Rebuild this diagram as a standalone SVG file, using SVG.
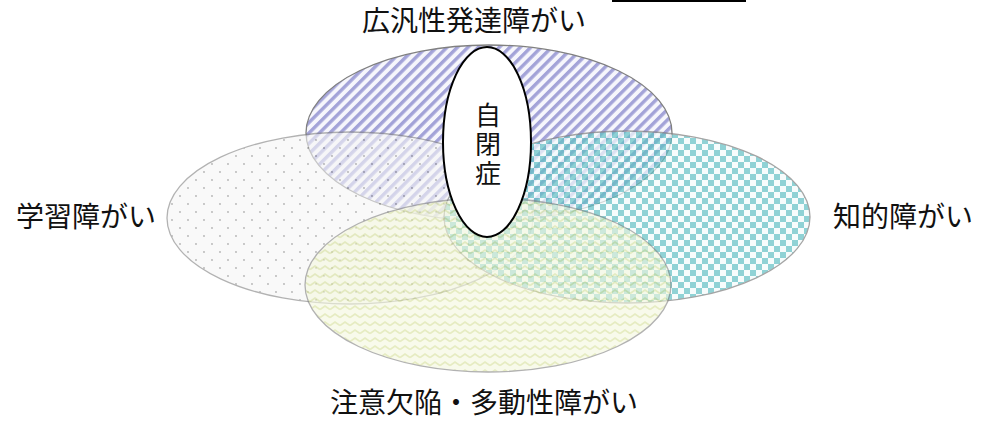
<svg xmlns="http://www.w3.org/2000/svg" width="993" height="422" viewBox="0 0 993 422">
<style>
.lbl{font-family:"Noto Sans CJK JP","Noto Sans",sans-serif;font-size:28px;fill:#111;text-anchor:middle}
.v{font-size:26px;text-anchor:start;writing-mode:vertical-rl;letter-spacing:3px}
.ring{stroke:#808080;stroke-width:1.3}
</style>
<defs>
<pattern id="stripes" patternUnits="userSpaceOnUse" width="7.4" height="7.4" patternTransform="rotate(45)">
<rect width="7.4" height="7.4" fill="#f6f6fc"/>
<rect width="3.4" height="7.4" fill="#a3a3d8"/>
</pattern>
<pattern id="dots" patternUnits="userSpaceOnUse" width="16" height="16">
<rect width="16" height="16" fill="#f6f6f6"/>
<circle cx="4" cy="4" r="0.9" fill="#808080"/>
<circle cx="12" cy="12" r="0.9" fill="#808080"/>
</pattern>
<pattern id="checker" patternUnits="userSpaceOnUse" width="12" height="12">
<rect width="12" height="12" fill="#f4fcfc"/>
<rect width="6" height="6" fill="#62c0c4"/>
<rect x="6" y="6" width="6" height="6" fill="#62c0c4"/>
</pattern>
<pattern id="wave" patternUnits="userSpaceOnUse" width="10" height="8">
<rect width="10" height="8" fill="#f5f8df"/>
<path d="M0,5.5 L5,2 L10,5.5" fill="none" stroke="#d6e09a" stroke-width="1.8"/>
</pattern>
</defs>
<rect x="612" y="0" width="134" height="2" fill="#000"/>
<g id="pdd">
<ellipse class="ring" cx="489" cy="133" rx="183" ry="88" fill="url(#stripes)"/>
</g>
<g id="ld">
<ellipse class="ring" cx="350" cy="218" rx="183" ry="86" fill="url(#dots)" opacity="0.6"/>
</g>
<g id="id">
<ellipse class="ring" cx="627" cy="217" rx="183" ry="86" fill="url(#checker)" opacity="0.7"/>
</g>
<g id="adhd">
<ellipse class="ring" cx="488" cy="285" rx="183" ry="87" fill="url(#wave)" opacity="0.6"/>
</g>
<g id="autism">
<ellipse cx="487" cy="142" rx="44" ry="95" fill="#fff" stroke="#000" stroke-width="2"/>
<text class="lbl v" x="488" y="102">自閉症</text>
</g>
<g id="labels">
<text class="lbl" x="474" y="31">広汎性発達障がい</text>
<text class="lbl" x="86" y="227">学習障がい</text>
<text class="lbl" x="903" y="227">知的障がい</text>
<text class="lbl" x="484" y="413">注意欠陥・多動性障がい</text>
</g>
<g id="connectors"></g>
</svg>
